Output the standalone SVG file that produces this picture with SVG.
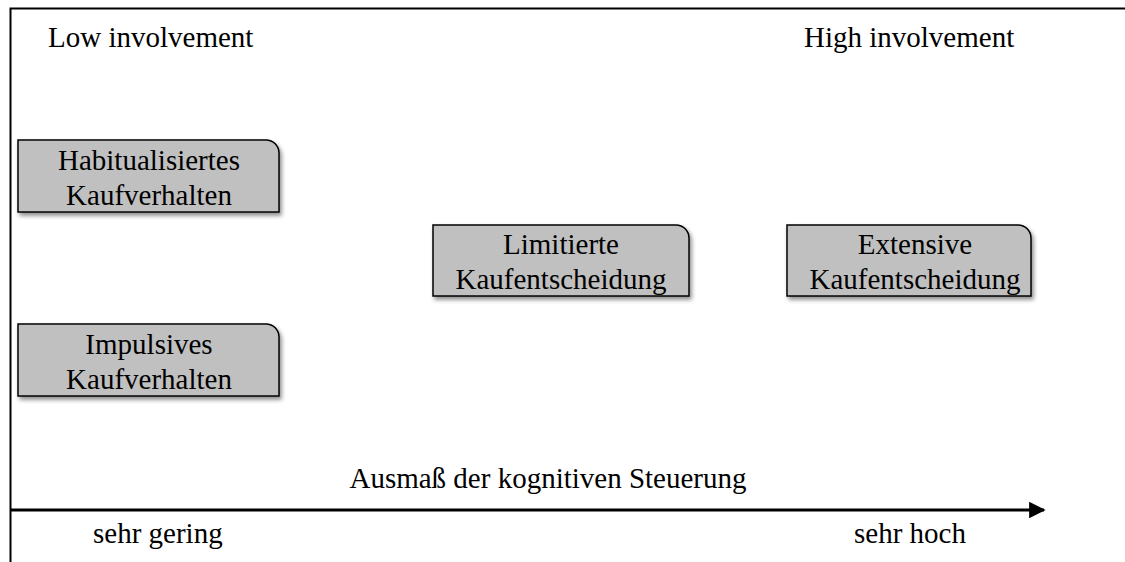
<svg xmlns="http://www.w3.org/2000/svg" width="1125" height="562" viewBox="0 0 1125 562">
<style>
text{font-family:"Liberation Serif","Times New Roman",serif;font-size:29px;fill:#000}
.box{fill:#c0c0c0;stroke:#000;stroke-width:1.5;filter:url(#sh)}
.c{text-anchor:middle}
</style>
<defs>
<filter id="sh" x="-10%" y="-20%" width="130%" height="150%">
<feDropShadow dx="2" dy="3" stdDeviation="2" flood-color="#000" flood-opacity="0.45"/>
</filter>
<marker id="ah" viewBox="0 0 10 10" refX="9" refY="5" markerWidth="5.5" markerHeight="5.5" orient="auto" markerUnits="strokeWidth">
<path d="M0,0 L10,5 L0,10 Z" fill="#000"/>
</marker>
</defs>
<g id="frame">
<path d="M10.5,562 V8.5 H1125" fill="none" stroke="#000" stroke-width="2"/>
</g>
<g id="labels">
<text x="48" y="47">Low involvement</text>
<text x="804" y="47">High involvement</text>
<text x="548" y="488" class="c">Ausmaß der kognitiven Steuerung</text>
<text x="93" y="543">sehr gering</text>
<text x="854" y="543">sehr hoch</text>
</g>
<g id="connectors">
<line x1="10" y1="510" x2="1044" y2="510" stroke="#000" stroke-width="3" marker-end="url(#ah)"/>
</g>
<g id="n1">
<path class="box" d="M18,140 H266 A13,13 0 0 1 279,153 V212 H18 Z"/>
<text x="149" y="170" class="c">Habitualisiertes</text>
<text x="149" y="205" class="c">Kaufverhalten</text>
</g>
<g id="n2">
<path class="box" d="M18,324 H266 A13,13 0 0 1 279,337 V396 H18 Z"/>
<text x="149" y="354" class="c">Impulsives</text>
<text x="149" y="389" class="c">Kaufverhalten</text>
</g>
<g id="n3">
<path class="box" d="M433,225 H676 A13,13 0 0 1 689,238 V296 H433 Z"/>
<text x="561" y="254" class="c">Limitierte</text>
<text x="561" y="289" class="c">Kaufentscheidung</text>
</g>
<g id="n4">
<path class="box" d="M787,225 H1018 A13,13 0 0 1 1031,238 V296 H787 Z"/>
<text x="915" y="254" class="c">Extensive</text>
<text x="915" y="289" class="c">Kaufentscheidung</text>
</g>
</svg>
